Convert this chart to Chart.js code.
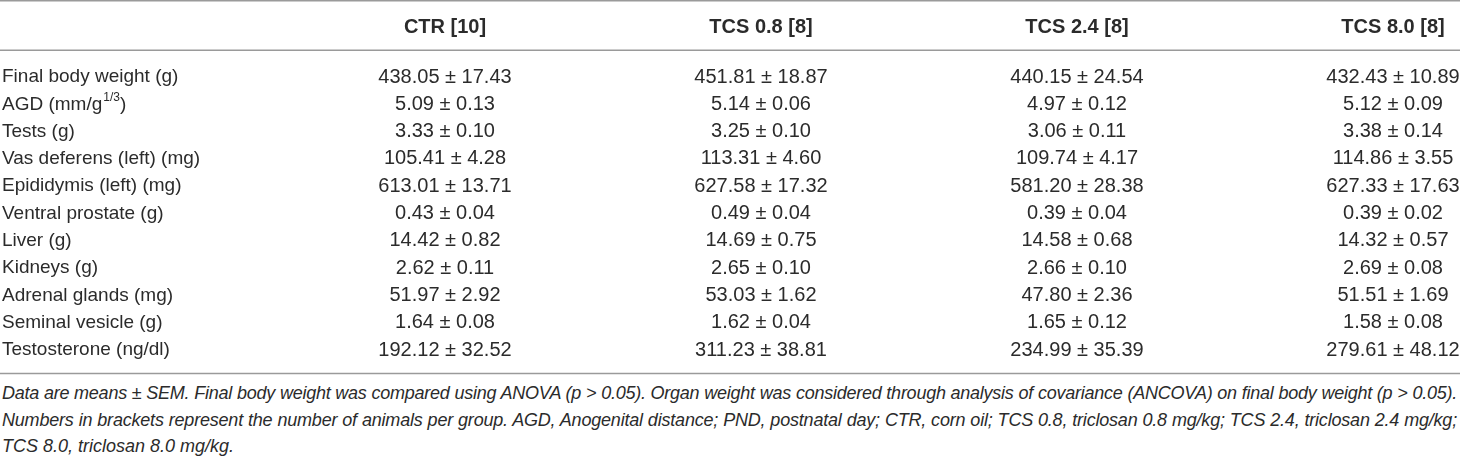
<!DOCTYPE html>
<html><head><meta charset="utf-8">
<script src="https://cdn.jsdelivr.net/npm/chart.js@4.4.0/dist/chart.umd.min.js"></script>
<style>
html,body{margin:0;padding:0;background:#fff;}
#wrap{position:relative;width:1460px;height:457px;overflow:hidden;background:#fff;}
#box{position:absolute;left:0;top:0;width:1460px;height:380px;}
.note{position:absolute;left:2px;width:1455px;font:italic 18px "Liberation Sans",Arial,sans-serif;color:#2b2b2b;white-space:nowrap;line-height:26px;}
.j{text-align:justify;text-align-last:justify;}
</style></head>
<body>
<div id="wrap">
  <div id="box"><canvas id="c"></canvas></div>
  <div class="note j" id="n1" style="top:380px">Data are means ± SEM. Final body weight was compared using ANOVA (p &gt; 0.05). Organ weight was considered through analysis of covariance (ANCOVA) on final body weight (p &gt; 0.05).</div>
  <div class="note j" id="n2" style="top:406.5px">Numbers in brackets represent the number of animals per group. AGD, Anogenital distance; PND, postnatal day; CTR, corn oil; TCS 0.8, triclosan 0.8 mg/kg; TCS 2.4, triclosan 2.4 mg/kg;</div>
  <div class="note" id="n3" style="top:433px">TCS 8.0, triclosan 8.0 mg/kg.</div>
</div>
<script>
// ---- data ----
const groups = ['CTR [10]', 'TCS 0.8 [8]', 'TCS 2.4 [8]', 'TCS 8.0 [8]'];
const measures = ['Final body weight (g)', 'AGD (mm/g^{1/3})', 'Tests (g)', 'Vas deferens (left) (mg)',
  'Epididymis (left) (mg)', 'Ventral prostate (g)', 'Liver (g)', 'Kidneys (g)', 'Adrenal glands (mg)',
  'Seminal vesicle (g)', 'Testosterone (ng/dl)'];
const ctrMean   = [438.05, 5.09, 3.33, 105.41, 613.01, 0.43, 14.42, 2.62, 51.97, 1.64, 192.12];
const ctrSem    = [17.43, 0.13, 0.10, 4.28, 13.71, 0.04, 0.82, 0.11, 2.92, 0.08, 32.52];
const tcs08Mean = [451.81, 5.14, 3.25, 113.31, 627.58, 0.49, 14.69, 2.65, 53.03, 1.62, 311.23];
const tcs08Sem  = [18.87, 0.06, 0.10, 4.60, 17.32, 0.04, 0.75, 0.10, 1.62, 0.04, 38.81];
const tcs24Mean = [440.15, 4.97, 3.06, 109.74, 581.20, 0.39, 14.58, 2.66, 47.80, 1.65, 234.99];
const tcs24Sem  = [24.54, 0.12, 0.11, 4.17, 28.38, 0.04, 0.68, 0.10, 2.36, 0.12, 35.39];
const tcs80Mean = [432.43, 5.12, 3.38, 114.86, 627.33, 0.39, 14.32, 2.69, 51.51, 1.58, 279.61];
const tcs80Sem  = [10.89, 0.09, 0.14, 3.55, 17.63, 0.02, 0.57, 0.08, 1.69, 0.08, 48.12];

const means = [ctrMean, tcs08Mean, tcs24Mean, tcs80Mean];
const sems  = [ctrSem, tcs08Sem, tcs24Sem, tcs80Sem];

const TXT = '#2b2b2b';
const FONT = '"Liberation Sans", Arial, sans-serif';
const HEADER_ROW = -1.8;

const datasets = groups.map((g, gi) => ({
  label: g,
  data: measures.map((m, ri) => ({ x: gi, y: ri, mean: means[gi][ri], sem: sems[gi][ri] })),
  pointRadius: 0, pointHoverRadius: 0, showLine: false
}));

function drawRich(ctx, text, x, y, size) {
  // supports one ^{...} superscript
  const m = text.match(/^(.*)\^\{(.*)\}(.*)$/);
  ctx.textAlign = 'left';
  ctx.font = size + 'px ' + FONT;
  if (!m) { ctx.fillText(text, x, y); return; }
  ctx.fillText(m[1], x, y);
  let w = ctx.measureText(m[1]).width;
  ctx.font = Math.round(size * 0.62) + 'px ' + FONT;
  ctx.fillText(m[2], x + w + 1, y - size * 0.36);
  w += ctx.measureText(m[2]).width + 1;
  ctx.font = size + 'px ' + FONT;
  ctx.fillText(m[3], x + w, y);
}

const tablePlugin = {
  id: 'tablePlugin',
  afterDatasetsDraw(chart) {
    const ctx = chart.ctx, xs = chart.scales.x, ys = chart.scales.y, ca = chart.chartArea;
    ctx.save();
    // rules
    ctx.strokeStyle = '#9a9a9a';
    ctx.lineWidth = 1.5;
    [0.75, ys.getPixelForValue(HEADER_ROW) + 22.5, ys.getPixelForValue(measures.length - 1) + 23.5].forEach(y => {
      ctx.beginPath(); ctx.moveTo(0, y); ctx.lineTo(chart.width, y); ctx.stroke();
    });
    ctx.fillStyle = TXT;
    ctx.textBaseline = 'middle';
    // header
    ctx.font = 'bold 20px ' + FONT;
    ctx.textAlign = 'center';
    groups.forEach((g, gi) => ctx.fillText(g, xs.getPixelForValue(gi), ys.getPixelForValue(HEADER_ROW)));
    // row labels
    measures.forEach((m, ri) => drawRich(ctx, m, ca.left + 2, ys.getPixelForValue(ri), 19));
    // cells
    ctx.font = '20px ' + FONT;
    ctx.textAlign = 'center';
    chart.data.datasets.forEach((ds, di) => {
      const meta = chart.getDatasetMeta(di);
      meta.data.forEach((el, i) => {
        const d = ds.data[i];
        ctx.fillText(d.mean.toFixed(2) + ' ± ' + d.sem.toFixed(2), el.x, el.y);
      });
    });
    ctx.restore();
  }
};

new Chart(document.getElementById('c'), {
  type: 'scatter',
  data: { datasets },
  options: {
    responsive: true, maintainAspectRatio: false, animation: false, events: [],
    devicePixelRatio: 1,
    layout: { padding: 0 },
    plugins: { legend: { display: false }, tooltip: { enabled: false } },
    scales: {
      x: { type: 'linear', display: false, min: -1.40823, max: 3.21203 },
      y: { type: 'linear', display: false, reverse: true, min: -2.8205, max: 11.0989 }
    }
  },
  plugins: [tablePlugin]
});

// fit footnote lines to width if they overflow
['n1', 'n2'].forEach(id => {
  const el = document.getElementById(id);
  let ls = 0;
  while (el.scrollWidth > el.clientWidth + 0.5 && ls > -1.5) { ls -= 0.05; el.style.letterSpacing = ls + 'px'; }
});
</script>
</body></html>
